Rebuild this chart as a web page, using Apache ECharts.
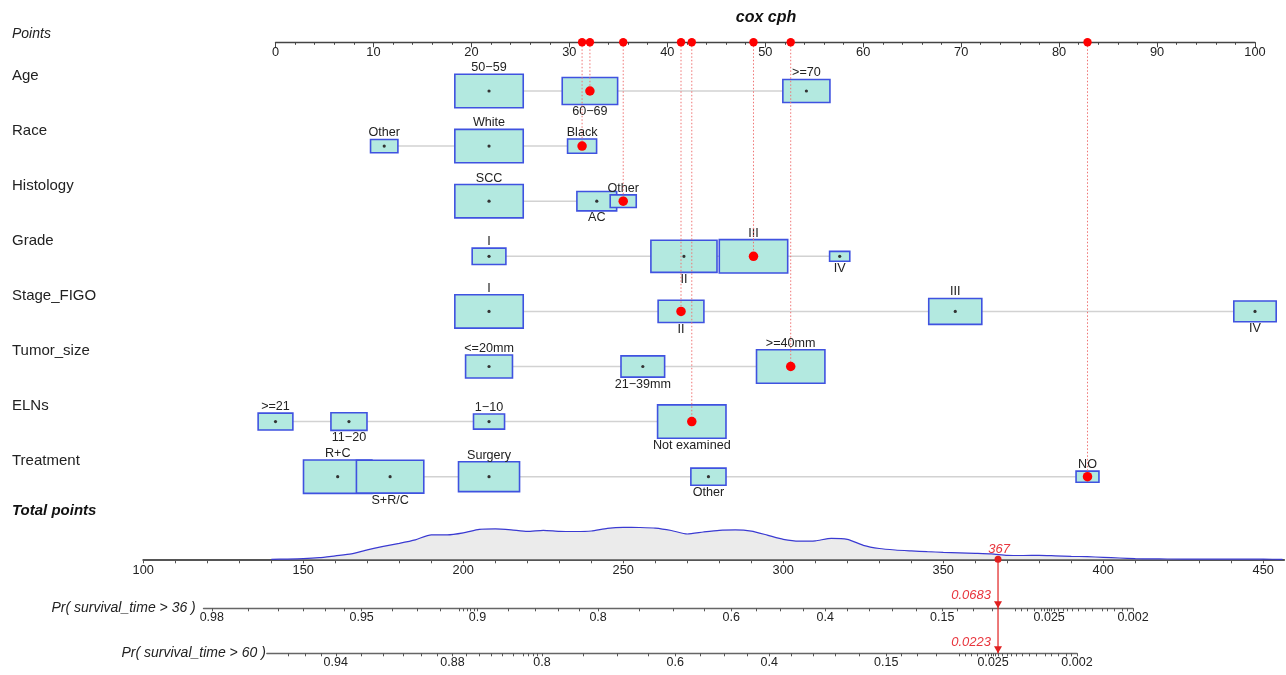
<!DOCTYPE html>
<html>
<head>
<meta charset="utf-8">
<script src="https://cdn.jsdelivr.net/npm/echarts@6/dist/echarts.min.js"></script>
<style>
  html, body { margin: 0; padding: 0; background: #ffffff; }
  #chart { width: 1286px; height: 675px; }
</style>
</head>
<body>
<div id="chart"></div>
<script>
// ---------------- data ----------------
const variables = ['Age', 'Race', 'Histology', 'Grade', 'Stage_FIGO', 'Tumor_size', 'ELNs', 'Treatment'];

const ageLevels = ['50\u221259', '60\u221269', '>=70'];
const agePoints = [21.8, 32.1, 54.2];
const ageFreq = [1.00, 0.656, 0.474];

const raceLevels = ['Other', 'White', 'Black'];
const racePoints = [11.1, 21.8, 31.3];
const raceFreq = [0.16, 1.00, 0.18];

const histologyLevels = ['SCC', 'AC', 'Other'];
const histologyPoints = [21.8, 32.8, 35.5];
const histologyFreq = [1.00, 0.338, 0.145];

const gradeLevels = ['I', 'II', 'III', 'IV'];
const gradePoints = [21.8, 41.7, 48.8, 57.6];
const gradeFreq = [0.243, 0.934, 1.00, 0.087];

const stageLevels = ['I', 'II', 'III', 'IV'];
const stagePoints = [21.8, 41.4, 69.4, 100];
const stageFreq = [1.00, 0.448, 0.602, 0.384];

const tumorLevels = ['<=20mm', '21\u221239mm', '>=40mm'];
const tumorPoints = [21.8, 37.5, 52.6];
const tumorFreq = [0.47, 0.407, 1.00];

const elnLevels = ['>=21', '11\u221220', '1\u221210', 'Not examined'];
const elnPoints = [0, 7.5, 21.8, 42.5];
const elnFreq = [0.258, 0.278, 0.206, 1.00];

const treatmentLevels = ['R+C', 'S+R/C', 'Surgery', 'Other', 'NO'];
const treatmentPoints = [6.35, 11.7, 21.8, 44.2, 82.9];
const treatmentFreq = [1.00, 0.97, 0.796, 0.264, 0.112];

// level chosen for the highlighted patient, per variable
const selectedLevel = [1, 2, 2, 2, 1, 2, 3, 4];

// points scale and total points scale
const pointsTicks = [0, 10, 20, 30, 40, 50, 60, 70, 80, 90, 100];
const totalTicks = [100, 150, 200, 250, 300, 350, 400, 450];

// distribution of total points in the cohort
const densityTotal = [140, 145, 150, 155, 160, 165, 170, 175, 180, 185, 190, 195, 200, 205, 210, 215, 220, 225, 230, 235,
  240, 245, 250, 255, 260, 265, 270, 275, 280, 285, 290, 295, 300, 305, 310, 315, 320, 325, 330, 335,
  340, 345, 350, 355, 360, 365, 370, 375, 380, 385, 390, 395, 400, 405, 410, 415, 420, 430, 440, 450, 456];
const densityValue = [0, 0.2, 0.6, 1.6, 3.5, 5.4, 9.5, 13, 16, 19.5, 24.5, 24.5, 26.5, 30, 30.5, 29.5, 28, 29, 28, 27.8,
  28.3, 31, 32, 31.8, 31.2, 28.8, 25.3, 27.3, 29, 29.4, 28.2, 24.2, 20, 18.2, 18.5, 21, 20, 14, 10.8, 9.3,
  8.4, 7.6, 7, 6.5, 6, 5.4, 4, 3.8, 4, 3.5, 3, 2.6, 2, 1.3, 0.6, 0.4, 0.3, 0.2, 0.2, 0.1, 0];

// survival probability scales
const pr36Ticks = [0.98, 0.95, 0.9, 0.8, 0.6, 0.4, 0.15, 0.025, 0.002];
const pr60Ticks = [0.94, 0.88, 0.8, 0.6, 0.4, 0.15, 0.025, 0.002];
const pr36Minor = [0.975, 0.97, 0.965, 0.96, 0.955, 0.94, 0.93, 0.92, 0.91, 0.908, 0.906, 0.904, 0.902,
  0.88, 0.86, 0.84, 0.82, 0.75, 0.7, 0.65, 0.55, 0.5, 0.45, 0.35, 0.3, 0.25, 0.2, 0.125, 0.1, 0.075, 0.05,
  0.045, 0.04, 0.035, 0.03, 0.028, 0.026, 0.024, 0.022, 0.02, 0.018, 0.016, 0.014, 0.012, 0.01,
  0.008, 0.006, 0.005, 0.004, 0.003, 0.0025];
const pr60Minor = [0.955, 0.95, 0.945, 0.93, 0.92, 0.91, 0.9, 0.89, 0.87, 0.86, 0.85, 0.84, 0.83, 0.82,
  0.815, 0.81, 0.805, 0.75, 0.7, 0.65, 0.55, 0.5, 0.45, 0.35, 0.3, 0.25, 0.2, 0.125, 0.1, 0.075, 0.05,
  0.045, 0.04, 0.035, 0.03, 0.028, 0.026, 0.024, 0.022, 0.02, 0.018, 0.016, 0.014, 0.012, 0.01,
  0.008, 0.006, 0.005, 0.004, 0.003, 0.0025];
const pr36Range = [0.981, 0.002];
const pr60Range = [0.9605, 0.002];
const pr36AtTotal = 0.0683;
const pr60AtTotal = 0.0223;
const survivalSlope = 0.0199;   // change of log(-log S) per total point

// ---------------- layout ----------------
const FONT = '"Liberation Sans", Arial, Helvetica, sans-serif';
const PTS_LEFT = 275.5, PTS_RIGHT = 1255;
const TOP_AXIS_Y = 42.3;
const ROW0_Y = 91, ROW_STEP = 55.1;
const ROW_GRID_TOP = ROW0_Y - ROW_STEP / 2;
const TOT_MIN = 100, TOT_MAX = 456.5, TOT_LEFT = 143.3, TOT_PX = 3.2;
const TOT_Y = 559.3, DENS_H = 40;
const PR_Y = [608.3, 653.3];
const BOX_MAX_W = 68.4, BOX_ASPECT = 2.05;
const BOX_FILL = '#b3e9e0', BOX_EDGE = '#3f52e0';
const RED = '#ff0000', RED_TEXT = '#e8353d';
const LABEL_FONT = '12.6px ' + FONT;

const levelSets = [
  [ageLevels, agePoints, ageFreq, ['top', 'bottom', 'top']],
  [raceLevels, racePoints, raceFreq, ['top', 'top', 'top']],
  [histologyLevels, histologyPoints, histologyFreq, ['top', 'bottom', 'top']],
  [gradeLevels, gradePoints, gradeFreq, ['top', 'bottom', 'top', 'bottom']],
  [stageLevels, stagePoints, stageFreq, ['top', 'bottom', 'top', 'bottom']],
  [tumorLevels, tumorPoints, tumorFreq, ['top', 'bottom', 'top']],
  [elnLevels, elnPoints, elnFreq, ['top', 'bottom', 'top', 'bottom']],
  [treatmentLevels, treatmentPoints, treatmentFreq, ['top', 'bottom', 'top', 'bottom', 'top']]
];

const levelItems = [];
const levelData = [];
const rowData = [];
const chosenData = [];
let total = 0;
levelSets.forEach(([names, pts, freq, sides], row) => {
  rowData.push([Math.min(...pts), Math.max(...pts), row]);
  names.forEach((name, j) => {
    const sel = j === selectedLevel[row];
    levelItems.push({ name, side: sides[j], selected: sel });
    levelData.push([pts[j], row, freq[j]]);
    if (sel) { chosenData.push([pts[j], row]); total += pts[j]; }
  });
});

// total points position of a survival probability, anchored at the patient's prediction
const cloglog = p => Math.log(-Math.log(p));
const tOf = (p, anchor) => total + (cloglog(p) - cloglog(anchor)) / survivalSlope;
const totPx = t => TOT_LEFT + (t - TOT_MIN) * TOT_PX;

function probAxisParts(major, minor, range, anchor) {
  const start = tOf(range[0], anchor), end = tOf(range[1], anchor);
  const majorPos = major.map(p => tOf(p, anchor));
  const allPos = major.concat(minor).map(p => tOf(p, anchor)).filter(t => t >= start - 1e-6 && t <= end + 1e-6);
  return { start, end, majorPos, allPos, labels: major.map(String) };
}
const pr36 = probAxisParts(pr36Ticks, pr36Minor, pr36Range, pr36AtTotal);
const pr60 = probAxisParts(pr60Ticks, pr60Minor, pr60Range, pr60AtTotal);

function nearestLabel(parts, v) {
  let best = 0, bd = Infinity;
  parts.majorPos.forEach((t, i) => { const d = Math.abs(t - v); if (d < bd) { bd = d; best = i; } });
  return parts.labels[best];
}

function probGrid(parts, y) {
  return {
    left: totPx(parts.start), width: (parts.end - parts.start) * TOT_PX,
    top: y - 10, height: 10, containLabel: false, outerBoundsMode: 'none'
  };
}
function probAxis(parts, gridIndex, name) {
  return {
    gridIndex, type: 'value', min: parts.start, max: parts.end, position: 'bottom',
    name, nameLocation: 'start', nameGap: 1,
    nameTextStyle: { fontFamily: FONT, fontStyle: 'italic', fontSize: 14, color: '#222', padding: [0, 0, 4, 0] },
    axisLine: { show: true, onZero: false, lineStyle: { color: '#666', width: 1.3 } },
    axisTick: { show: true, length: 3, customValues: parts.allPos, lineStyle: { color: '#555', width: 1 } },
    minorTick: { show: false },
    axisLabel: {
      show: true, margin: 2.5, customValues: parts.majorPos, fontFamily: FONT, fontSize: 12.5, color: '#222',
      formatter: v => nearestLabel(parts, v)
    },
    splitLine: { show: false }
  };
}

// ---------------- chart ----------------
const chart = echarts.init(document.getElementById('chart'), null, { renderer: 'canvas' });

const option = {
  backgroundColor: '#ffffff',
  animation: false,
  graphic: [
    { type: 'text', x: 766, y: 18, style: { text: 'cox cph', font: 'italic bold 16px ' + FONT, fill: '#111', align: 'center', verticalAlign: 'middle' } },
    { type: 'text', x: 12, y: 34, style: { text: 'Points', font: 'italic 14px ' + FONT, fill: '#222', verticalAlign: 'middle' } },
    { type: 'text', x: 12, y: 511, style: { text: 'Total points', font: 'italic bold 15px ' + FONT, fill: '#111', verticalAlign: 'middle' } }
  ],
  grid: [
    { left: PTS_LEFT, width: PTS_RIGHT - PTS_LEFT, top: ROW_GRID_TOP, height: ROW_STEP * 8, containLabel: false, outerBoundsMode: 'none' },
    { left: TOT_LEFT, width: (TOT_MAX - TOT_MIN) * TOT_PX, top: TOT_Y - DENS_H, height: DENS_H, containLabel: false, outerBoundsMode: 'none' },
    probGrid(pr36, PR_Y[0]),
    probGrid(pr60, PR_Y[1])
  ],
  xAxis: [
    {
      gridIndex: 0, type: 'value', min: 0, max: 100, interval: 10, position: 'top',
      offset: ROW_GRID_TOP - TOP_AXIS_Y,
      axisLine: { show: true, onZero: false, lineStyle: { color: '#444', width: 1.4 } },
      axisTick: { show: true, inside: true, length: 5, lineStyle: { color: '#444' } },
      minorTick: { show: true, splitNumber: 5, length: 2.5, lineStyle: { color: '#444' } },
      axisLabel: { show: true, inside: true, margin: 3.5, fontFamily: FONT, fontSize: 12.8, color: '#222',
        customValues: pointsTicks },
      splitLine: { show: false }, minorSplitLine: { show: false }
    },
    {
      gridIndex: 1, type: 'value', min: TOT_MIN, max: TOT_MAX, position: 'bottom',
      axisLine: { show: true, onZero: false, lineStyle: { color: '#555', width: 2 } },
      axisTick: { show: true, length: 4, lineStyle: { color: '#555' },
        customValues: Array.from({ length: 36 }, (_, i) => TOT_MIN + i * 10) },
      axisLabel: { show: true, margin: 5, fontFamily: FONT, fontSize: 12.8, color: '#222', customValues: totalTicks },
      splitLine: { show: false }
    },
    probAxis(pr36, 2, 'Pr( survival_time > 36 )'),
    probAxis(pr60, 3, 'Pr( survival_time > 60 )')
  ],
  yAxis: [
    { gridIndex: 0, type: 'value', min: -0.5, max: 7.5, inverse: true, show: false },
    { gridIndex: 1, type: 'value', min: 0, max: DENS_H, show: false },
    { gridIndex: 2, type: 'value', show: false },
    { gridIndex: 3, type: 'value', show: false }
  ],
  series: [
    // variable names
    {
      type: 'custom', xAxisIndex: 0, yAxisIndex: 0, silent: true,
      data: variables.map((v, i) => [0, i]),
      encode: { x: 0, y: 1 },
      renderItem: (params, api) => {
        const c = api.coord([0, api.value(1)]);
        return { type: 'text', style: { text: variables[params.dataIndex], x: 12, y: c[1] - 15.5,
          font: '15px ' + FONT, fill: '#222', verticalAlign: 'middle' } };
      }
    },
    // connecting line of each variable
    {
      type: 'custom', xAxisIndex: 0, yAxisIndex: 0, silent: true,
      data: rowData, encode: { x: [0, 1], y: 2 },
      renderItem: (params, api) => {
        const a = api.coord([api.value(0), api.value(2)]);
        const b = api.coord([api.value(1), api.value(2)]);
        return { type: 'line', shape: { x1: a[0], y1: a[1], x2: b[0], y2: b[1] },
          style: { stroke: '#d2d2d2', lineWidth: 1.5 } };
      }
    },
    // level boxes (area follows level frequency)
    {
      type: 'custom', xAxisIndex: 0, yAxisIndex: 0, silent: true,
      data: levelData, encode: { x: 0, y: 1 },
      renderItem: (params, api) => {
        const lv = levelItems[params.dataIndex];
        const c = api.coord([api.value(0), api.value(1)]);
        const w = BOX_MAX_W * Math.sqrt(api.value(2));
        const h = w / BOX_ASPECT;
        const top = lv.side === 'top';
        const children = [
          { type: 'rect', shape: { x: c[0] - w / 2, y: c[1] - h / 2, width: w, height: h },
            style: { fill: BOX_FILL, stroke: BOX_EDGE, lineWidth: 1.6 } },
          { type: 'text', style: { text: lv.name, x: c[0], y: top ? c[1] - h / 2 : c[1] + h / 2 + 0.5,
            align: 'center', verticalAlign: top ? 'bottom' : 'top', font: LABEL_FONT, fill: '#222' } }
        ];
        if (!lv.selected) children.push({ type: 'circle', shape: { cx: c[0], cy: c[1], r: 1.6 }, style: { fill: '#333' } });
        return { type: 'group', children };
      }
    },
    // guides from the points axis down to the chosen levels
    {
      type: 'custom', xAxisIndex: 0, yAxisIndex: 0, silent: true,
      data: chosenData, encode: { x: 0, y: 1 },
      renderItem: (params, api) => {
        const c = api.coord([api.value(0), api.value(1)]);
        return { type: 'group', children: [
          { type: 'line', shape: { x1: c[0], y1: TOP_AXIS_Y, x2: c[0], y2: c[1] },
            style: { stroke: '#ef7373', lineWidth: 1, lineDash: [1.5, 2] } },
          { type: 'circle', shape: { cx: c[0], cy: TOP_AXIS_Y, r: 4.2 }, style: { fill: RED } }
        ] };
      }
    },
    // chosen levels
    {
      type: 'scatter', xAxisIndex: 0, yAxisIndex: 0, silent: true,
      data: chosenData, symbol: 'circle', symbolSize: 9.5,
      itemStyle: { color: RED, opacity: 1 }
    },
    // total points distribution
    {
      type: 'line', xAxisIndex: 1, yAxisIndex: 1, silent: true,
      data: densityTotal.map((t, i) => [t, densityValue[i]]),
      showSymbol: false, symbol: 'none', smooth: 0.2,
      lineStyle: { color: '#3a3ad2', width: 1.2 },
      areaStyle: { color: '#ebebeb', opacity: 1 }
    },
    // prediction marker
    {
      type: 'custom', xAxisIndex: 1, yAxisIndex: 1, silent: true, z: 10,
      data: [[total, 0]], encode: { x: 0, y: 1 },
      renderItem: (params, api) => {
        const c = api.coord([api.value(0), 0]);
        const x = c[0], y0 = c[1];
        const tri = y => ({ type: 'polygon', shape: { points: [[x - 4, y - 7], [x + 4, y - 7], [x, y]] }, style: { fill: '#e02020' } });
        const txt = (s, tx, ty, align) => ({ type: 'text', style: { text: s, x: tx, y: ty, align, verticalAlign: 'middle',
          font: 'italic 13px ' + FONT, fill: RED_TEXT } });
        return { type: 'group', children: [
          { type: 'line', shape: { x1: x, y1: y0, x2: x, y2: PR_Y[1] }, style: { stroke: '#e02020', lineWidth: 1.2 } },
          tri(PR_Y[0]), tri(PR_Y[1]),
          { type: 'circle', shape: { cx: x, cy: y0, r: 3.5 }, style: { fill: '#e02020' } },
          txt(String(Math.round(total)), x + 1, y0 - 10, 'center'),
          txt(String(pr36AtTotal), x - 7, PR_Y[0] - 13, 'right'),
          txt(String(pr60AtTotal), x - 7, PR_Y[1] - 11, 'right')
        ] };
      }
    }
  ]
};

chart.setOption(option);
</script>
</body>
</html>
